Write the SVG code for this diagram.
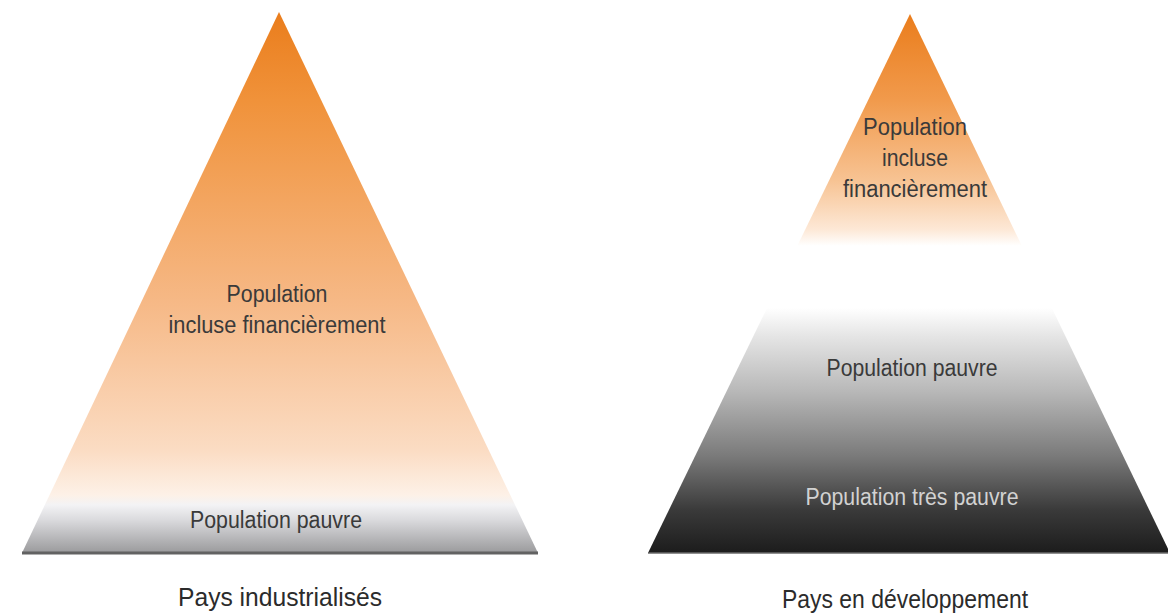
<svg xmlns="http://www.w3.org/2000/svg" width="1168" height="616" viewBox="0 0 1168 616">
  <defs>
    <linearGradient id="gLeft" gradientUnits="userSpaceOnUse" x1="0" y1="12" x2="0" y2="553">
      <stop offset="0" stop-color="#ea7d1c"/>
      <stop offset="0.163" stop-color="#f0923a"/>
      <stop offset="0.532" stop-color="#f6b885"/>
      <stop offset="0.81" stop-color="#fbdcc3"/>
      <stop offset="0.893" stop-color="#fdf1e7"/>
      <stop offset="0.911" stop-color="#f3f3f5"/>
      <stop offset="0.939" stop-color="#dadadd"/>
      <stop offset="1" stop-color="#9a9a9c"/>
    </linearGradient>
    <linearGradient id="gRight" gradientUnits="userSpaceOnUse" x1="0" y1="14" x2="0" y2="553">
      <stop offset="0" stop-color="#ea7d1c"/>
      <stop offset="0.16" stop-color="#f19a4c"/>
      <stop offset="0.309" stop-color="#f7c393"/>
      <stop offset="0.40" stop-color="#fde8d6"/>
      <stop offset="0.43" stop-color="#ffffff"/>
      <stop offset="0.545" stop-color="#ffffff"/>
      <stop offset="0.60" stop-color="#e4e4e4"/>
      <stop offset="0.70" stop-color="#b8b8b8"/>
      <stop offset="0.82" stop-color="#7a7a7a"/>
      <stop offset="0.92" stop-color="#3a3a3a"/>
      <stop offset="1" stop-color="#1c1c1c"/>
    </linearGradient>
  </defs>
  <style>
    .lbl { font-family: "Liberation Sans", Arial, sans-serif; font-size: 23px; fill: #3a3a3a; text-anchor: middle; }
    .title { font-family: "Liberation Sans", Arial, sans-serif; font-size: 26px; fill: #2b2b2b; text-anchor: middle; }
    .light { fill: #d2d2d2; }
  </style>
  <rect width="1168" height="616" fill="#ffffff"/>

  <g id="pyramid-industrialises">
    <polygon points="279,12 538,553 22,553" fill="url(#gLeft)"/>
    <line x1="22" y1="553" x2="538" y2="553" stroke="#626262" stroke-width="3"/>
    <text class="lbl" x="277" y="302" textLength="101" lengthAdjust="spacingAndGlyphs">Population</text>
    <text class="lbl" x="277" y="333" textLength="217" lengthAdjust="spacingAndGlyphs">incluse financièrement</text>
    <text class="lbl" x="276" y="528" textLength="172" lengthAdjust="spacingAndGlyphs">Population pauvre</text>
    <text class="title" x="280" y="606" textLength="204" lengthAdjust="spacingAndGlyphs">Pays industrialisés</text>
  </g>

  <g id="pyramid-developpement">
    <polygon points="910,14 1170,553 648,553" fill="url(#gRight)"/>
    <line x1="648" y1="553" x2="1168" y2="553" stroke="#6a6a6a" stroke-width="1.5"/>
    <text class="lbl" x="915" y="135" textLength="104" lengthAdjust="spacingAndGlyphs">Population</text>
    <text class="lbl" x="915" y="166" textLength="66" lengthAdjust="spacingAndGlyphs">incluse</text>
    <text class="lbl" x="915" y="197" textLength="144" lengthAdjust="spacingAndGlyphs">financièrement</text>
    <text class="lbl" x="912" y="376" textLength="171" lengthAdjust="spacingAndGlyphs">Population pauvre</text>
    <text class="lbl light" x="912" y="505" textLength="213" lengthAdjust="spacingAndGlyphs">Population très pauvre</text>
    <text class="title" x="905" y="608" textLength="246" lengthAdjust="spacingAndGlyphs">Pays en développement</text>
  </g>

  <g id="connectors"></g>
</svg>
